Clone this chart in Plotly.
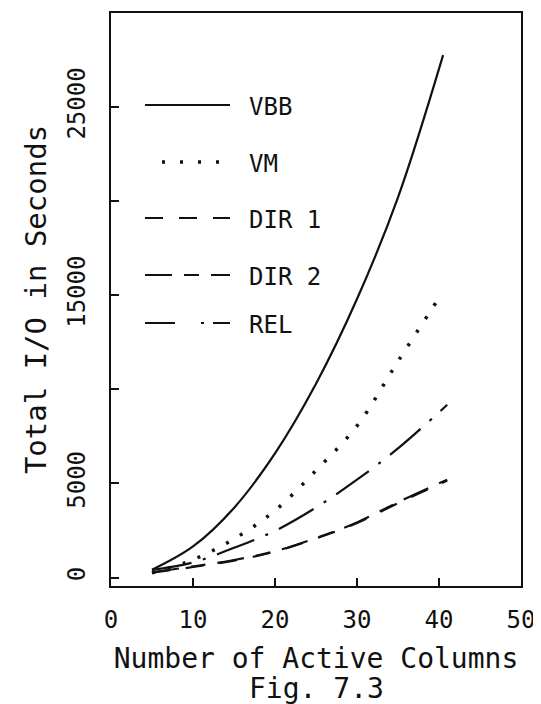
import plotly.graph_objects as go

# ---------------- data ----------------
x_vbb = [5, 10, 15, 20, 25, 30, 35, 40.5]
vbb = [410, 1650, 3700, 6600, 10300, 14800, 20200, 27760]

x_vm = [5, 10, 15, 20, 25, 30, 35, 40]
vm = [250, 950, 2050, 3560, 5690, 8060, 11490, 14860]

x_dir = [5, 10, 15, 20, 25, 30, 35, 41]
dir1 = [260, 560, 900, 1380, 2080, 2900, 3950, 5150]
dir2 = [280, 590, 930, 1400, 2100, 2930, 4000, 5200]

x_rel = [5, 10, 15, 20, 25, 30, 35, 41]
rel = [400, 800, 1580, 2480, 3720, 5200, 6860, 9180]

series_names = ["VBB", "VM", "DIR 1", "DIR 2", "REL"]
x_ticks = [0, 10, 20, 30, 40, 50]
x_ticklabels = ["0", "10", "20", "30", "40", "50"]
y_ticks = [0, 5000, 10000, 15000, 20000, 25000]
y_ticklabels = ["0", "5000", "", "15000", "", "25000"]

x_title = "Number of Active Columns"
y_title = "Total I/O in Seconds"
caption = "Fig. 7.3"

# ---------------- styling ----------------
PAGE_OFF = 8            # default body margin of the written html page
W, H = 541 - PAGE_OFF, 704 - PAGE_OFF
ML, MR, MT, MB = 111 - PAGE_OFF, 20, 13 - PAGE_OFF, 118
INK = "#111111"
FONT = "DejaVu Sans Mono"

dashes = {
    "VBB": "solid",
    "VM": "3px,13px",
    "DIR 1": "18px,16px",
    "DIR 2": "27px,12px,15px,12px",
    "REL": "40px,12px,3px,12px",
}
key_dashes = dict(dashes)
key_dashes["VM"] = "3px,15px"
key_dashes["REL"] = "30px,26px,3px,9px"
widths = {"VBB": 2.2, "VM": 3.5, "DIR 1": 2.2, "DIR 2": 2.2, "REL": 2.2}

fig = go.Figure()
for name, xs, ys in [("VBB", x_vbb, vbb), ("VM", x_vm, vm),
                     ("DIR 1", x_dir, dir1), ("DIR 2", x_dir, dir2),
                     ("REL", x_rel, rel)]:
    fig.add_trace(go.Scatter(
        x=xs, y=ys, name=name, mode="lines",
        line=dict(color=INK, width=widths[name], dash=dashes[name],
                  shape="spline", smoothing=1.0),
        showlegend=False, hoverinfo="x+y+name",
    ))

# ---------------- hand-drawn style key (legend) ----------------
pw = W - ML - MR
ph = H - MT - MB


def px(xp):
    """page pixel x -> paper coordinate"""
    return (xp - PAGE_OFF - ML) / pw


def py(yp):
    """page pixel y -> paper coordinate"""
    return (H - MB - (yp - PAGE_OFF)) / ph


key_rows = [105, 162, 218, 275, 323]
key_x0 = {"VBB": 145, "VM": 162, "DIR 1": 145, "DIR 2": 145, "REL": 145}
key_x1 = {"VBB": 230, "VM": 219, "DIR 1": 230, "DIR 2": 230, "REL": 230}
for name, yrow in zip(series_names, key_rows):
    fig.add_shape(type="line", xref="paper", yref="paper",
                  x0=px(key_x0[name]), x1=px(key_x1[name]),
                  y0=py(yrow), y1=py(yrow),
                  line=dict(color=INK, width=widths[name],
                            dash=key_dashes[name]))
    fig.add_annotation(xref="paper", yref="paper", x=px(247), y=py(yrow + 2),
                       text=name, showarrow=False, xanchor="left",
                       yanchor="middle",
                       font=dict(family=FONT, size=24, color=INK))

# caption below the x-axis title
fig.add_annotation(xref="paper", yref="paper", x=px(316), y=py(688),
                   text=caption, showarrow=False, xanchor="center",
                   yanchor="middle", font=dict(family=FONT, size=28, color=INK))

fig.update_layout(
    width=W, height=H,
    margin=dict(l=ML, r=MR, t=MT, b=MB, autoexpand=False),
    paper_bgcolor="white", plot_bgcolor="white",
    font=dict(family=FONT, color=INK),
    showlegend=False,
)
fig.update_xaxes(
    range=[0, 50], tickvals=x_ticks, ticktext=x_ticklabels,
    ticks="inside", ticklen=8, tickwidth=2, tickcolor=INK,
    showline=True, linecolor=INK, linewidth=2, mirror=True,
    showgrid=False, zeroline=False,
    tickfont=dict(family=FONT, size=24, color=INK),
    ticklabelstandoff=11,
    title=dict(text=x_title, font=dict(family=FONT, size=28, color=INK),
               standoff=16),
    automargin=False,
)
fig.update_yaxes(
    range=[-450, 30000], tickvals=y_ticks, ticktext=y_ticklabels,
    ticks="inside", ticklen=8, tickwidth=2, tickcolor=INK,
    showline=True, linecolor=INK, linewidth=2, mirror=True,
    showgrid=False, zeroline=False, tickangle=-90,
    tickfont=dict(family=FONT, size=24, color=INK),
    ticklabelstandoff=14,
    title=dict(text=y_title, font=dict(family=FONT, size=29, color=INK),
               standoff=8),
    automargin=False,
)

fig.write_html("out.html")
